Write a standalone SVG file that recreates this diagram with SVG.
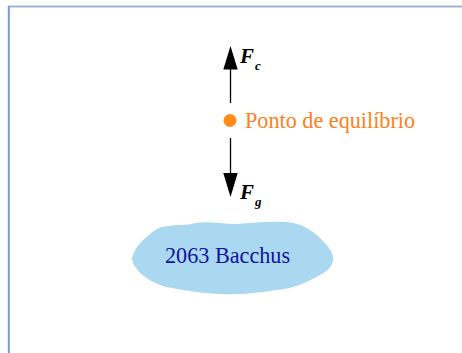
<svg xmlns="http://www.w3.org/2000/svg" width="462" height="353" viewBox="0 0 462 353">
<style>
.frameT{stroke:#9db2d2;stroke-width:2;fill:none}
.frameL{stroke:#7d9bd3;stroke-width:2;fill:none}
.arrow{stroke:#000;stroke-width:1.3;fill:none}
.head{fill:#000}
.force{font-family:"Liberation Serif",serif;font-weight:bold;font-style:italic;font-size:21px;fill:#000}
.sub{font-size:13px}
.lbl{font-family:"Liberation Serif",serif;font-size:22.2px;fill:#ff7f1a}
.ast{font-family:"Liberation Serif",serif;font-size:22.2px;fill:#12129a}
</style>
<rect width="462" height="353" fill="#fff"/>
<g id="frame">
<line class="frameT" x1="8" y1="6.5" x2="462" y2="6.5"/>
<line class="frameL" x1="8.8" y1="6" x2="8.8" y2="353"/>
</g>
<g id="connectors">
<line class="arrow" x1="230.5" y1="103" x2="230.5" y2="66"/>
<polygon class="head" points="230.5,46 223.3,69.5 237.7,69.5"/>
<line class="arrow" x1="230.5" y1="138" x2="230.5" y2="176"/>
<polygon class="head" points="230.5,197 223.3,173 237.7,173"/>
</g>
<g id="fc">
<text class="force" x="240" y="63">F<tspan class="sub" dx="1" dy="7">c</tspan></text>
</g>
<g id="fg">
<text class="force" x="240" y="199">F<tspan class="sub" dx="1" dy="7">g</tspan></text>
</g>
<g id="equilibrium">
<circle cx="230" cy="120.5" r="6.5" fill="#ff8c1a"/>
<text class="lbl" x="245" y="128">Ponto de equilíbrio</text>
</g>
<g id="bacchus">
<path d="M132,258 C134,250 140,242 148,236 C154,230 160,226 170,226 C178,224 186,226 195,223 C210,221 222,224 236,224 C252,223 268,221 288,222 C302,224 312,230 320,238 C327,245 334,252 333,260 C332,268 326,272 318,276 C306,283 292,289 276,290 C258,293 240,295 220,294 C200,293 182,290 166,287 C152,283 142,276 136,268 C133,264 132,261 132,258 Z" fill="#aad8f1"/>
<text class="ast" x="165" y="263">2063 Bacchus</text>
</g>
</svg>
